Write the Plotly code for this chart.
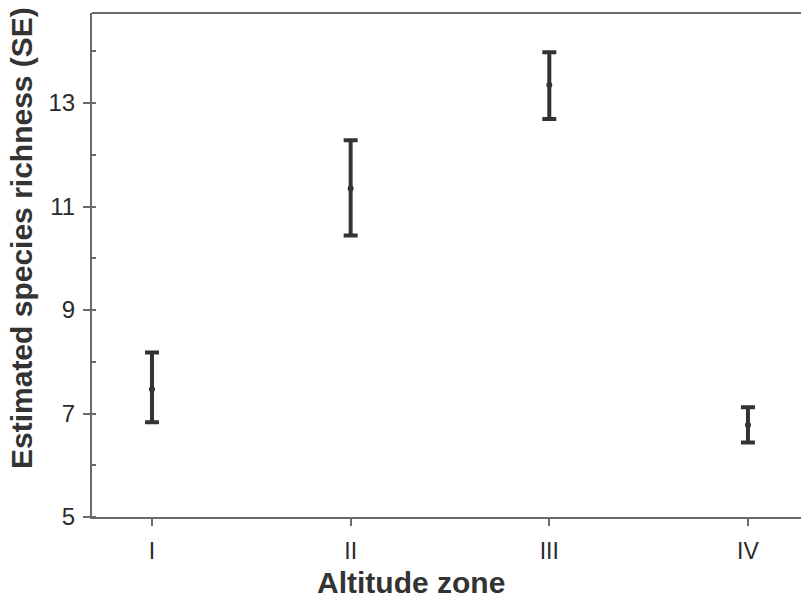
import plotly.graph_objects as go

zones = ["I", "II", "III", "IV"]
zone_pos = [1, 2, 3, 4]
richness_mean = [7.47, 11.35, 13.35, 6.78]
se_plus = [0.71, 0.93, 0.63, 0.34]
se_minus = [0.64, 0.91, 0.66, 0.34]
y_ticks = [5, 7, 9, 11, 13]

INK = "#333333"
AXIS = "#6a6a6a"
FONT = "Liberation Sans, Arial, sans-serif"

fig = go.Figure()
fig.add_trace(go.Scatter(
    x=zone_pos, y=richness_mean, mode="markers",
    marker=dict(color=INK, size=6, symbol="circle"),
    error_y=dict(type="data", symmetric=False, array=se_plus, arrayminus=se_minus,
                 color=INK, thickness=4, width=7),
    showlegend=False, hoverinfo="skip",
))

fig.update_layout(
    width=801, height=604,
    margin=dict(l=92, r=0, t=13, b=87),
    paper_bgcolor="white", plot_bgcolor="white",
    font=dict(family=FONT, color=INK),
    xaxis=dict(
        range=[0.698, 4.267], tickvals=zone_pos, ticktext=zones,
        showgrid=False, zeroline=False, showline=True, linecolor=AXIS, linewidth=2,
        ticks="outside", ticklen=7, tickwidth=1.5, tickcolor=AXIS,
        tickfont=dict(size=23, color="#2a2a2a", family=FONT), ticklabelstandoff=5,
    ),
    yaxis=dict(
        range=[5, 14.74], tickvals=y_ticks,
        showgrid=False, zeroline=False, showline=True, linecolor=AXIS, linewidth=2,
        ticks="outside", ticklen=7, tickwidth=1.5, tickcolor=AXIS,
        tickfont=dict(size=24, color="#2a2a2a", family=FONT), ticklabelstandoff=3,
        minor=dict(dtick=1, tick0=5, ticks="inside", ticklen=4, tickcolor=AXIS, tickwidth=1.5),
    ),
)

fig.add_shape(type="line", xref="paper", yref="paper", x0=0, x1=1, y0=1, y1=1,
              line=dict(color=AXIS, width=2))

fig.add_annotation(text="Estimated species richness (SE)", xref="paper", yref="paper",
                   x=(22 - 92) / 709, y=(517 - 238) / 504, xanchor="center", yanchor="middle",
                   textangle=-90, showarrow=False,
                   font=dict(size=30, color=INK, family=FONT, weight="bold"))
fig.add_annotation(text="Altitude zone", xref="paper", yref="paper",
                   x=(411 - 92) / 709, y=(517 - 582) / 504, xanchor="center", yanchor="middle",
                   showarrow=False,
                   font=dict(size=30, color=INK, family=FONT, weight="bold"))

fig.write_html("out.html", config={"displayModeBar": False},
               post_script="document.body.style.margin='0';document.body.style.overflow='hidden';")
